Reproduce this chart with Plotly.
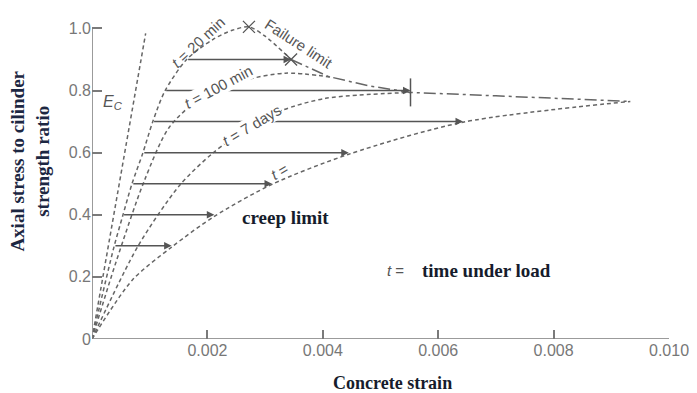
import plotly.graph_objects as go

# ---- data ----
ec_x = [0, 0.00093]
ec_y = [0, 0.984]

t20_x = [0, 0.00038, 0.00053, 0.00069, 0.00088, 0.00105, 0.00126, 0.00164, 0.00210, 0.00243, 0.00272, 0.00300, 0.00345]
t20_y = [0, 0.296, 0.395, 0.498, 0.598, 0.698, 0.797, 0.900, 0.965, 0.994, 1.005, 0.975, 0.900]

t100_x = [0, 0.00042, 0.00091, 0.00134, 0.00195, 0.00264, 0.00335, 0.00415]
t100_y = [0, 0.250, 0.511, 0.682, 0.785, 0.833, 0.856, 0.843]

t7d_x = [0, 0.00080, 0.00152, 0.00209, 0.00272, 0.00329, 0.00405, 0.00552]
t7d_y = [0, 0.300, 0.495, 0.598, 0.682, 0.736, 0.775, 0.794]

tinf_x = [0, 0.00070, 0.00138, 0.00212, 0.00312, 0.00445, 0.00643, 0.00933]
tinf_y = [0, 0.190, 0.296, 0.395, 0.498, 0.595, 0.698, 0.765]

fail_x = [0.00345, 0.00410, 0.00480, 0.00552, 0.00700, 0.00933]
fail_y = [0.900, 0.845, 0.815, 0.794, 0.783, 0.765]

arrow_levels = [0.3, 0.4, 0.5, 0.6, 0.7, 0.8, 0.9]
arrow_start = [0.00038, 0.00053, 0.00069, 0.00088, 0.00105, 0.00126, 0.00164]
arrow_end = [0.00138, 0.00212, 0.00312, 0.00445, 0.00643, 0.00552, 0.00345]

x_ticks = [0.002, 0.004, 0.006, 0.008, 0.010]
x_tick_text = ["0.002", "0.004", "0.006", "0.008", "0.010"]
y_ticks = [0, 0.2, 0.4, 0.6, 0.8, 1.0]
y_tick_text = ["0", "0.2", "0.4", "0.6", "0.8", "1.0"]

GRAY = "#666666"
AX = "#7a7a7a"
SANS = "Liberation Sans, Arial, sans-serif"
SERIF = "Liberation Serif, Times New Roman, serif"
DARK = "#161c2c"

fig = go.Figure()

def curve(x, y, dash="4px,3px", color=GRAY, width=1.5, shape="spline"):
    fig.add_trace(go.Scatter(x=x, y=y, mode="lines",
                             line=dict(color=color, width=width, dash=dash, shape=shape, smoothing=0.8),
                             hoverinfo="skip", showlegend=False))

curve(ec_x, ec_y, shape="linear")
curve(t20_x, t20_y)
curve(t100_x, t100_y)
curve(t7d_x, t7d_y)
curve(tinf_x, tinf_y)
curve(fail_x, fail_y, dash="12px,4px,3px,4px", shape="linear")

# failure markers
fig.add_trace(go.Scatter(x=[t20_x[10], fail_x[0]], y=[t20_y[10], fail_y[0]], mode="markers",
                         marker=dict(symbol="x-thin", size=12, line=dict(color="#555", width=1.3)),
                         hoverinfo="skip", showlegend=False))
fig.add_trace(go.Scatter(x=[fail_x[3]], y=[fail_y[3]], mode="markers",
                         marker=dict(symbol="line-ns", size=20, line=dict(color="#555", width=1.5)),
                         hoverinfo="skip", showlegend=False))

# creep arrows
for lvl, xs, xe in zip(arrow_levels, arrow_start, arrow_end):
    fig.add_annotation(x=xe, y=lvl, ax=xs, ay=lvl, xref="x", yref="y", axref="x", ayref="y",
                       text="", showarrow=True, arrowhead=2, arrowsize=1, arrowwidth=1.5,
                       arrowcolor="#555555", standoff=0, startstandoff=0)

# axis lines
fig.add_shape(type="line", x0=0, y0=0, x1=0, y1=1.0, xref="x", yref="y", line=dict(color=AX, width=1.5))
fig.add_shape(type="line", x0=0, y0=0, x1=0.010, y1=0, xref="x", yref="y", line=dict(color=AX, width=1.5))

def label(text, x, y, angle=0, size=15, bg=None, color="#555555", family=SANS):
    fig.add_annotation(x=x, y=y, xref="x", yref="y", text=text, showarrow=False,
                       textangle=angle, font=dict(family=family, size=size, color=color),
                       bgcolor=bg, borderpad=0)

label("<i>E</i><sub><i>C</i></sub>", 0.00036, 0.76, size=16)
label("<i>t</i> = 20 min", 0.00183, 0.955, angle=-43, size=15)
label("Failure limit", 0.00358, 0.95, angle=33, size=15)
label("<i>t</i> = 100 min", 0.00220, 0.813, angle=-28, size=15, bg="white")
label("<i>t</i> = 7 days", 0.00276, 0.688, angle=-31, size=15, bg="white")
label("<i>t</i> =", 0.00325, 0.538, angle=-30, size=15)
label("<b>creep limit</b>", 0.00335, 0.392, size=19, color=DARK, family=SERIF)
label("<i>t</i> =", 0.00526, 0.222, size=15)
label("<b>time under load</b>", 0.00684, 0.222, size=19, color=DARK, family=SERIF)

# axis titles
fig.add_annotation(xref="paper", yref="paper", x=-0.107, xanchor="center", y=0.55, yanchor="middle",
                   text="<b>Axial stress to cilinder<br>strength ratio</b>",
                   showarrow=False, textangle=-90, font=dict(family=SERIF, size=19, color="#1d2742"))
fig.add_annotation(xref="paper", yref="paper", x=0.52, xanchor="center", y=-0.135, yanchor="middle",
                   text="<b>Concrete strain</b>",
                   showarrow=False, font=dict(family=SERIF, size=18, color=DARK))

fig.update_xaxes(range=[0, 0.010], tickvals=x_ticks, ticktext=x_tick_text, ticks="inside", ticklen=9,
                 tickcolor=AX, tickwidth=1.5, showgrid=False, zeroline=False, showline=False,
                 tickfont=dict(family=SANS, size=16, color="#777777"))
fig.update_yaxes(range=[0, 1.04], tickvals=y_ticks, ticktext=y_tick_text, ticks="inside", ticklen=10,
                 tickcolor=AX, tickwidth=1.5, showgrid=False, zeroline=False, showline=False,
                 tickfont=dict(family=SANS, size=16, color="#777777"))

# page body has an 8px margin, so the figure is sized to fit the 697x393 window
fig.update_layout(width=689, height=385, margin=dict(l=84, r=25, t=8, b=54),
                  plot_bgcolor="white", paper_bgcolor="white")

fig.write_html("out.html")
